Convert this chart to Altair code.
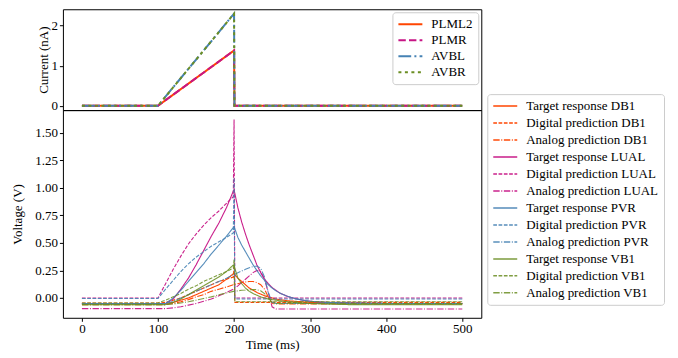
import altair as alt
import pandas as pd

# ---------------- data ----------------
TOP_T = [0, 100, 200, 200.5, 500]
PLML2 = [0.0, 0.0, 1.38, 0.0, 0.0]
PLMR = [0.0, 0.0, 1.38, 0.0, 0.0]
AVBL = [0.0, 0.0, 2.30, 0.0, 0.0]
AVBR = [0.0, 0.0, 2.30, 0.0, 0.0]
TOP_NAMES = ["PLML2", "PLMR", "AVBL", "AVBR"]

T = [0, 100, 110, 120, 130, 140, 150, 160, 170, 180, 190, 199, 200, 201, 205, 210,
     215, 220, 225, 230, 235, 240, 245, 250, 255, 260, 270, 280, 290, 300, 320, 350, 400, 500]

target_db1 = [-0.05, -0.05, -0.05, -0.04, -0.02, 0.0, 0.03, 0.06, 0.09, 0.12, 0.17, 0.22, 0.22, 0.21,
              0.18, 0.15, 0.12, 0.09, 0.07, 0.05, 0.035, 0.02, 0.01, 0.0, -0.01, -0.015, -0.025, -0.03,
              -0.035, -0.04, -0.045, -0.05, -0.05, -0.05]
digital_db1 = [-0.045, -0.045, -0.04, -0.02, 0.0, 0.03, 0.06, 0.09, 0.12, 0.15, 0.17, 0.19, 0.28, -0.04,
               -0.04, -0.04, -0.04, -0.04, -0.04, -0.04, -0.04, -0.04, -0.04, -0.04, -0.04, -0.04, -0.04,
               -0.04, -0.04, -0.04, -0.04, -0.04, -0.04, -0.04]
analog_db1 = [-0.06, -0.06, -0.06, -0.05, -0.035, -0.015, 0.01, 0.03, 0.06, 0.08, 0.10, 0.12, 0.12, 0.125,
              0.13, 0.14, 0.145, 0.15, 0.15, 0.14, 0.12, 0.08, 0.01, -0.05, -0.055, -0.055, -0.055, -0.055,
              -0.055, -0.055, -0.055, -0.055, -0.055, -0.055]
target_lual = [-0.05, -0.05, -0.05, -0.01, 0.08, 0.18, 0.30, 0.43, 0.56, 0.68, 0.82, 0.97, 0.98, 0.95,
               0.82, 0.69, 0.58, 0.48, 0.39, 0.30, 0.23, 0.17, 0.13, 0.095, 0.07, 0.045, 0.015, -0.005,
               -0.02, -0.03, -0.04, -0.045, -0.05, -0.05]
digital_lual = [0.0, 0.0, 0.13, 0.26, 0.38, 0.49, 0.58, 0.66, 0.73, 0.79, 0.86, 0.92, 1.62, 0.0,
                0.0, 0.0, 0.0, 0.0, 0.0, 0.0, 0.0, 0.0, 0.0, 0.0, 0.0, 0.0, 0.0, 0.0,
                0.0, 0.0, 0.0, 0.0, 0.0, 0.0]
analog_lual = [-0.097, -0.097, -0.097, -0.09, -0.08, -0.065, -0.05, -0.03, -0.01, 0.02, 0.05, 0.08, 0.085,
               0.09, 0.11, 0.14, 0.17, 0.20, 0.23, 0.25, 0.24, 0.17, 0.05, -0.08, -0.1, -0.1, -0.1, -0.1,
               -0.1, -0.1, -0.1, -0.1, -0.1, -0.1]
target_pvr = [-0.05, -0.05, -0.05, 0.0, 0.07, 0.15, 0.23, 0.31, 0.40, 0.48, 0.56, 0.64, 0.65, 0.63,
              0.55, 0.48, 0.42, 0.36, 0.30, 0.25, 0.20, 0.16, 0.12, 0.09, 0.065, 0.045, 0.015, -0.005,
              -0.02, -0.03, -0.04, -0.045, -0.05, -0.05]
digital_pvr = [-0.005, -0.005, 0.08, 0.16, 0.24, 0.31, 0.37, 0.42, 0.47, 0.51, 0.55, 0.59, 1.09, -0.01,
               -0.01, -0.01, -0.01, -0.01, -0.01, -0.01, -0.01, -0.01, -0.01, -0.01, -0.01, -0.01, -0.01,
               -0.01, -0.01, -0.01, -0.01, -0.01, -0.01, -0.01]
analog_pvr = [-0.05, -0.05, -0.05, -0.03, 0.0, 0.03, 0.06, 0.09, 0.12, 0.15, 0.18, 0.21, 0.21, 0.215,
              0.23, 0.245, 0.26, 0.275, 0.285, 0.29, 0.27, 0.19, 0.05, -0.04, -0.05, -0.05, -0.05, -0.05,
              -0.05, -0.05, -0.05, -0.05, -0.05, -0.05]
target_vb1 = [-0.06, -0.06, -0.06, -0.04, -0.01, 0.03, 0.07, 0.11, 0.15, 0.19, 0.24, 0.30, 0.30, 0.27,
              0.18, 0.13, 0.09, 0.06, 0.04, 0.025, 0.01, 0.0, -0.01, -0.015, -0.02, -0.025, -0.035, -0.04,
              -0.045, -0.05, -0.055, -0.06, -0.06, -0.06]
digital_vb1 = [-0.045, -0.045, -0.02, 0.01, 0.04, 0.08, 0.11, 0.15, 0.18, 0.21, 0.24, 0.27, 0.35, -0.035,
               -0.035, -0.035, -0.035, -0.035, -0.035, -0.035, -0.035, -0.035, -0.035, -0.035, -0.035,
               -0.035, -0.035, -0.035, -0.035, -0.035, -0.035, -0.035, -0.035, -0.035]
analog_vb1 = [-0.06, -0.06, -0.06, -0.055, -0.045, -0.035, -0.02, -0.005, 0.01, 0.03, 0.045, 0.06, 0.06,
              0.062, 0.065, 0.07, 0.072, 0.075, 0.077, 0.075, 0.065, 0.04, 0.0, -0.04, -0.05, -0.05, -0.05,
              -0.05, -0.05, -0.05, -0.05, -0.05, -0.05, -0.05]

BOT_NAMES = [
    "Target response DB1", "Digital prediction DB1", "Analog prediction DB1",
    "Target response LUAL", "Digital prediction LUAL", "Analog prediction LUAL",
    "Target response PVR", "Digital prediction PVR", "Analog prediction PVR",
    "Target response VB1", "Digital prediction VB1", "Analog prediction VB1",
]
BOT_VALUES = [target_db1, digital_db1, analog_db1, target_lual, digital_lual, analog_lual,
              target_pvr, digital_pvr, analog_pvr, target_vb1, digital_vb1, analog_vb1]

# ---------------- styles ----------------
FONT = "Liberation Serif"
C_DB1, C_LUAL, C_PVR, C_VB1 = "#ff4500", "#c71585", "#4682b4", "#6b8e23"
SOLID, DASH, DASHDOT = [1, 0], [3.7, 1.6], [6.4, 1.6, 1, 1.6]

top_df = pd.DataFrame([
    {"series": n, "t": t, "v": v, "i": i}
    for n, vals in zip(TOP_NAMES, [PLML2, PLMR, AVBL, AVBR])
    for i, (t, v) in enumerate(zip(TOP_T, vals))
])
bot_df = pd.DataFrame([
    {"series": n, "t": t, "v": v, "i": i}
    for n, vals in zip(BOT_NAMES, BOT_VALUES)
    for i, (t, v) in enumerate(zip(T, vals))
])

LINE_PATH = "M-1,0H3"


def leg(**kw):
    base = dict(title=None, labelFont=FONT, labelFontSize=13, labelColor="black",
                symbolType=LINE_PATH, symbolSize=144, labelOffset=20,
                strokeColor="#cccccc", fillColor="white", padding=5, cornerRadius=3,
                rowPadding=3)
    base.update(kw)
    return alt.Legend(**base)


xscale = alt.Scale(domain=[-25, 525], nice=False, zero=False)

top_leg = leg(orient="top-right", offset=3, rowPadding=2)
top = alt.Chart(top_df).mark_line(strokeCap="butt").encode(
    x=alt.X("t:Q", scale=xscale, axis=None),
    y=alt.Y("v:Q", scale=alt.Scale(domain=[-0.11, 2.41], nice=False, zero=False),
            axis=alt.Axis(values=[0, 1, 2], title="Current (nA)", format="d", titlePadding=0)),
    color=alt.Color("series:N", sort=TOP_NAMES,
                    scale=alt.Scale(domain=TOP_NAMES, range=[C_DB1, C_LUAL, C_PVR, C_VB1]),
                    legend=top_leg),
    strokeDash=alt.StrokeDash("series:N", sort=TOP_NAMES,
                              scale=alt.Scale(domain=TOP_NAMES,
                                              range=[SOLID, [7.4, 3.2], [12.8, 3.2, 2, 3.2], [3, 3.5]]),
                              legend=top_leg),
    strokeWidth=alt.StrokeWidth("series:N", sort=TOP_NAMES,
                                scale=alt.Scale(domain=TOP_NAMES, range=[2, 2, 2, 3]),
                                legend=top_leg),
    order=alt.Order("i:Q"),
).properties(width=419, height=101)

bot_leg = leg(orient="none", legendX=425, legendY=-16)
bot = alt.Chart(bot_df).mark_line(strokeWidth=1.1, strokeCap="butt").encode(
    x=alt.X("t:Q", scale=xscale,
            axis=alt.Axis(values=[0, 100, 200, 300, 400, 500], title="Time (ms)", format="d",
                          labelPadding=1, titlePadding=3)),
    y=alt.Y("v:Q", scale=alt.Scale(domain=[-0.18, 1.706], nice=False, zero=False),
            axis=alt.Axis(values=[0, 0.25, 0.5, 0.75, 1.0, 1.25, 1.5], format=".2f",
                          title="Voltage (V)", titlePadding=10)),
    color=alt.Color("series:N", sort=BOT_NAMES,
                    scale=alt.Scale(domain=BOT_NAMES,
                                    range=[C_DB1] * 3 + [C_LUAL] * 3 + [C_PVR] * 3 + [C_VB1] * 3),
                    legend=bot_leg),
    strokeDash=alt.StrokeDash("series:N", sort=BOT_NAMES,
                              scale=alt.Scale(domain=BOT_NAMES,
                                              range=[SOLID, DASH, DASHDOT] * 4),
                              legend=bot_leg),
    opacity=alt.Opacity("series:N", sort=BOT_NAMES,
                        scale=alt.Scale(domain=BOT_NAMES, range=[1, 0.85, 0.85] * 4),
                        legend=bot_leg),
    order=alt.Order("i:Q"),
).properties(width=419, height=208)

chart = alt.vconcat(top, bot, spacing=0, bounds="flush").resolve_scale(
    color="independent", strokeDash="independent", strokeWidth="independent",
    opacity="independent", y="independent"
).resolve_legend(
    color="independent", strokeDash="independent", strokeWidth="independent", opacity="independent"
).properties(
    padding={"left": 3, "top": 0, "right": 5, "bottom": 0},
    background="white",
).configure_view(
    stroke="black", strokeWidth=1
).configure_axis(
    labelFont=FONT, labelFontSize=13, labelColor="black",
    titleFont=FONT, titleFontSize=13, titleFontWeight="normal", titleColor="black",
    tickColor="black", tickSize=3.5, tickWidth=1, domain=False, grid=False,
    labelPadding=2, titlePadding=6,
)

chart.save("out.html", embed_options={"renderer": "svg", "actions": False})
